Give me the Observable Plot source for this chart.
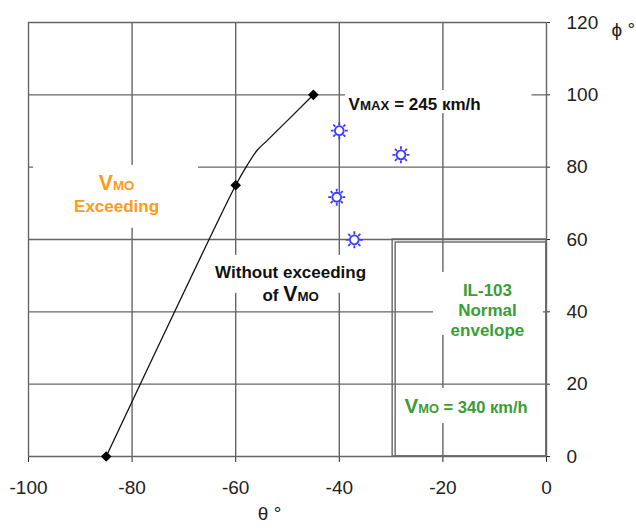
<!DOCTYPE html>
<html>
<head>
<meta charset="utf-8">
<script src="https://cdn.jsdelivr.net/npm/d3@7"></script>
<script src="https://cdn.jsdelivr.net/npm/@observablehq/plot@0.6"></script>
<style>
  html, body { margin: 0; padding: 0; background: white; }
  #chart { width: 636px; height: 532px; }
</style>
</head>
<body>
<div id="chart"></div>
<script>
// ---- data ----
const xTicks = [-100, -80, -60, -40, -20, 0];
const yTicks = [0, 20, 40, 60, 80, 100, 120];

// boundary curve (θ, φ)
const curveTheta = [-85, -71.8, -60, -57.8, -55.9, -53.9, -45];
const curvePhi   = [0, 40, 75, 80.5, 84.6, 87.4, 100];
// marked points on the curve
const markTheta = [-85, -60, -45];
const markPhi   = [0, 75, 100];

// test points (blue suns)
const testTheta = [-40, -28.1, -40.5, -37.1];
const testPhi   = [90.1, 83.4, 71.7, 59.9];

// IL-103 normal envelope corner
const envelopeTheta = [-29.7, 0];
const envelopePhi   = [0, 60];

// annotation texts and anchors (data units)
const annTexts = [
  "[V]{MO}\nExceeding",
  "Without exceeding\nof [V]{MO}",
  "V{MAX} = 245 кm/h",
  "IL-103\nNormal\nenvelope",
  "[V]{MO} = 340 кm/h"
];
const annTheta = [-83.0, -49.4, -38.2, -11.4, -27.4];
const annPhi   = [67.5, 43.1, 95.7, 33.2, 11.9];

// white label backgrounds that interrupt the grid
const boxTheta1 = [-99, -38.8, -63, -21.8, -28.3];
const boxTheta2 = [-67.2, -2.8, -36, -0.6, -1];
const boxPhi1   = [63.1, 94.8, 45.1, 33.5, 9.1];
const boxPhi2   = [80.5, 101.2, 55.6, 50.9, 18.8];

// ---- build tables ----
const curve = curveTheta.map((t, i) => ({theta: t, phi: curvePhi[i]}));
const marks = markTheta.map((t, i) => ({theta: t, phi: markPhi[i]}));
const tests = testTheta.map((t, i) => ({theta: t, phi: testPhi[i]}));
const env = [{x1: envelopeTheta[0], x2: envelopeTheta[1], y1: envelopePhi[0], y2: envelopePhi[1]}];
const ann = annTexts.map((s, i) => ({text: s, theta: annTheta[i], phi: annPhi[i]}));
const boxes = boxTheta1.map((t, i) => ({x1: t, x2: boxTheta2[i], y1: boxPhi1[i], y2: boxPhi2[i]}));

const sun = {
  draw(context, size) {
    const R = Math.sqrt(size / Math.PI);
    const r0 = R * 0.52;
    context.moveTo(r0, 0);
    context.arc(0, 0, r0, 0, 2 * Math.PI);
    for (let i = 0; i < 8; ++i) {
      const a = i * Math.PI / 4;
      context.moveTo(Math.cos(a) * R * 0.66, Math.sin(a) * R * 0.66);
      context.lineTo(Math.cos(a) * R, Math.sin(a) * R);
    }
  }
};

const gridColor = "#666";
const orange = "#ff9a1a";
const green = "#3a9d35";
const FONT = "Liberation Sans, Arial, sans-serif";

const chart = Plot.plot({
  width: 636,
  height: 532,
  marginLeft: 28,
  marginRight: 90,
  marginTop: 22,
  marginBottom: 76,
  style: {fontFamily: FONT, fontSize: "19px", color: "#222", background: "white"},
  x: {domain: [-100, 0], ticks: xTicks, tickSize: 6, tickPadding: 18, tickFormat: d => String(d), label: null},
  y: {domain: [0, 120], axis: "right", ticks: yTicks, tickSize: 3, tickPadding: 17, tickFormat: d => String(d), label: null},
  marks: [
    Plot.ruleX(xTicks, {stroke: gridColor, strokeWidth: 1.4}),
    Plot.ruleY(yTicks, {stroke: gridColor, strokeWidth: 1.4}),
    Plot.rect(boxes, {x1: "x1", x2: "x2", y1: "y1", y2: "y2", fill: "white"}),
    Plot.rect(env, {x1: "x1", x2: "x2", y1: "y1", y2: "y2", fill: "none", stroke: gridColor, strokeWidth: 1.4}),
    Plot.rect(env, {x1: "x1", x2: "x2", y1: "y1", y2: "y2", fill: "none", stroke: gridColor, strokeWidth: 1.4, insetLeft: 3, insetTop: 3}),
    Plot.line(curve, {x: "theta", y: "phi", curve: "catmull-rom", stroke: "#111", strokeWidth: 1.3}),
    Plot.dot(marks, {x: "theta", y: "phi", symbol: "diamond2", r: 4.8, fill: "#000", stroke: "none"}),
    Plot.dot(tests, {x: "theta", y: "phi", symbol: sun, r: 8.5, fill: "white", stroke: "#3b3bff", strokeWidth: 1.8}),
    Plot.text([ann[0]], {x: "theta", y: "phi", text: "text", fill: orange, fontWeight: "bold", fontSize: 17, lineAnchor: "bottom", lineHeight: 1.3, textAnchor: "middle"}),
    Plot.text([ann[1]], {x: "theta", y: "phi", text: "text", fill: "#111", fontWeight: "bold", fontSize: 17, lineAnchor: "bottom", lineHeight: 1.35, textAnchor: "middle"}),
    Plot.text([ann[2]], {x: "theta", y: "phi", text: "text", fill: "#111", fontWeight: "bold", fontSize: 17, lineAnchor: "bottom", textAnchor: "start"}),
    Plot.text([ann[3]], {x: "theta", y: "phi", text: "text", fill: green, fontWeight: "bold", fontSize: 17, lineAnchor: "bottom", lineHeight: 1.2, textAnchor: "middle"}),
    Plot.text([ann[4]], {x: "theta", y: "phi", text: "text", fill: green, fontWeight: "bold", fontSize: 16.5, lineAnchor: "bottom", textAnchor: "start"}),
    Plot.text(["ϕ °"], {text: d => d, frameAnchor: "top-right", dx: 65, textAnchor: "start", fontSize: 19, fill: "#222"}),
    Plot.text(["θ °"], {text: d => d, frameAnchor: "bottom", dx: -18, dy: 63, textAnchor: "middle", fontSize: 19, fill: "#222"})
  ]
});

// rich text: [..] = larger letters, {..} = small capitals
function richify(root) {
  const NS = "http://www.w3.org/2000/svg";
  root.querySelectorAll("text, tspan").forEach(el => {
    if (el.children.length) return;
    const s = el.textContent;
    if (!/[\[{]/.test(s)) return;
    el.textContent = "";
    const re = /\[([^\]]*)\]|\{([^}]*)\}|([^\[{]+)/g;
    let m;
    while ((m = re.exec(s))) {
      if (m[3] !== undefined) {
        el.appendChild(document.createTextNode(m[3]));
      } else {
        const t = document.createElementNS(NS, "tspan");
        t.textContent = m[1] !== undefined ? m[1] : m[2];
        t.setAttribute("font-size", m[1] !== undefined ? "1.25em" : "0.78em");
        el.appendChild(t);
      }
    }
  });
}
richify(chart);
document.getElementById("chart").appendChild(chart);
</script>
</body>
</html>
